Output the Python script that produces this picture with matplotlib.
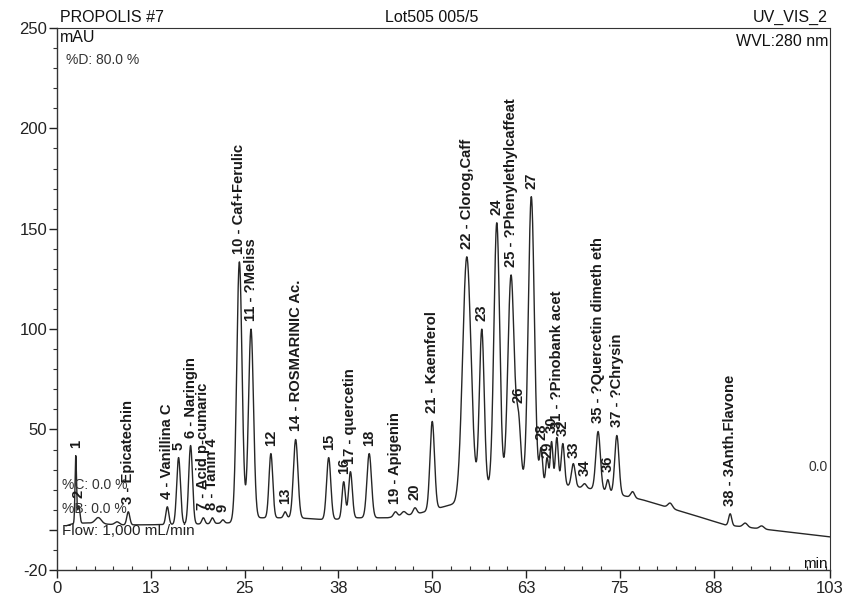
import numpy as np
import matplotlib
matplotlib.use('Agg')
import matplotlib.pyplot as plt
from matplotlib.ticker import FixedLocator, MultipleLocator

plt.rcParams['font.family'] = ['Liberation Sans', 'DejaVu Sans']

# ---------------- data ----------------
peak_labels = ["1", "2", "3 - Epicatechin", "4 - Vanillina C", "5", "6 - Naringin",
               "7 - Acid p-cumaric", "8 - Tanin 4", "9", "10 - Caf+Ferulic", "11 - ?Meliss",
               "12", "13", "14 - ROSMARINIC Ac.", "15", "16", "17 - quercetin", "18",
               "19 - Apigenin", "20", "21 - Kaemferol", "22 - Clorog,Caff", "23", "24",
               "25 - ?Phenylethylcaffeat", "26", "27", "28", "29", "30",
               "31 - ?Pinobank acet", "32", "33", "34", "35 - ?Quercetin dimeth eth",
               "36", "37 - ?Chrysin", "38 - 3Anth.Flavone"]
peak_rt = [2.5, 2.9, 9.5, 14.7, 16.2, 17.8, 19.5, 20.7, 22.1, 24.3, 25.85,
           28.5, 30.4, 31.8, 36.2, 38.2, 39.1, 41.6, 45.1, 47.7, 50.0,
           54.6, 56.6, 58.6, 60.5, 61.5, 63.2, 64.5, 65.3, 65.9, 66.6,
           67.4, 68.8, 70.3, 72.1, 73.4, 74.6, 89.7]
peak_apex = [37, 12, 9, 11.5, 36, 42, 6, 6, 5, 133.5, 100,
             38, 9, 45, 36, 24, 29, 38, 9, 11, 54,
             136, 100, 153, 127, 59, 166, 41, 36, 44, 46,
             43, 33, 23, 49, 25, 47, 8]
peak_sigma = [0.1, 0.15, 0.2, 0.2, 0.25, 0.25, 0.2, 0.2, 0.2, 0.35, 0.33,
              0.25, 0.2, 0.3, 0.28, 0.22, 0.25, 0.3, 0.25, 0.25, 0.3,
              0.55, 0.32, 0.38, 0.42, 0.3, 0.4, 0.2, 0.18, 0.18, 0.2,
              0.22, 0.25, 0.25, 0.3, 0.2, 0.28, 0.2]

# small unlabelled bumps
minor_rt = [5.5, 8.0, 46.2, 76.7, 81.7, 91.7, 93.9]
minor_h = [3, 1.5, 2, 3, 2.5, 2, 1.5]
minor_sigma = [0.4, 0.3, 0.3, 0.25, 0.3, 0.3, 0.3]

# baseline (drift)
base_t = [1.2, 2.0, 4, 8, 12, 20, 23, 25, 27, 32, 36, 40, 44, 48, 51, 53, 55, 58,
          63, 68, 72, 75.5, 78, 82, 86, 89, 95, 103]
base_y = [2, 3, 3.5, 2.5, 2.5, 3, 3.5, 6, 6, 6, 5, 6, 6, 8, 11, 13, 19, 22,
          23, 22, 20, 17, 15, 10.5, 6, 2.5, 0, -3.5]

x_tick_pos = [0, 12.5, 25, 37.5, 50, 62.5, 75, 87.5, 103]
x_tick_lab = ["0", "13", "25", "38", "50", "63", "75", "88", "103"]
y_tick_pos = [-20, 0, 50, 100, 150, 200, 250]
y_tick_lab = ["-20", "", "50", "100", "150", "200", "250"]

# ---------------- build trace ----------------
rt = np.array(peak_rt)
ap = np.array(peak_apex, float)
sg = np.array(peak_sigma)
t = np.linspace(1.2, 103, 6000)
base = np.interp(t, base_t, base_y)

def gauss(x, c, s):
    return np.exp(-(x - c) ** 2 / (2 * s ** 2))

minor = np.zeros_like(t)
minor_at_rt = np.zeros_like(rt)
for c, h, s in zip(minor_rt, minor_h, minor_sigma):
    minor += h * gauss(t, c, s)
    minor_at_rt += h * gauss(rt, c, s)

target = ap - np.interp(rt, base_t, base_y) - minor_at_rt
G = gauss(rt[:, None], rt[None, :], sg[None, :])
amp = np.clip(np.linalg.solve(G, target), 0, None)

signal = base + minor
for c, a, s in zip(rt, amp, sg):
    signal += a * gauss(t, c, s)

# ---------------- figure ----------------
fig = plt.figure(figsize=(8.52, 6.08), dpi=100)
ax = fig.add_axes([57 / 852, 38 / 608, 773 / 852, 542 / 608])
ax.plot(t, signal, color='#262626', lw=1.0)
ax.set_xlim(0, 103)
ax.set_ylim(-20, 250)

for sp in ax.spines.values():
    sp.set_color('#333333')
    sp.set_linewidth(1.0)
ax.spines['top'].set_linewidth(0.8)
ax.spines['right'].set_linewidth(0.8)

ax.xaxis.set_major_locator(FixedLocator(x_tick_pos))
ax.set_xticklabels(x_tick_lab)
ax.xaxis.set_minor_locator(MultipleLocator(2.5))
ax.yaxis.set_major_locator(FixedLocator(y_tick_pos))
ax.set_yticklabels(y_tick_lab)
ax.yaxis.set_minor_locator(MultipleLocator(10))
ax.tick_params(axis='both', which='major', direction='out', length=6, width=1.0,
               labelsize=12, colors='#222222', pad=2)
ax.tick_params(axis='x', which='minor', direction='in', length=3, width=0.8, colors='#333333')
ax.tick_params(axis='y', which='minor', direction='out', length=3, width=0.8, colors='#333333')
ax.tick_params(axis='y', which='major', pad=1)

# peak labels (small nudges where the reference staggers crowded labels)
label_dy = {"29": 0.0, "33": 3.0}
for lab, c, a in zip(peak_labels, peak_rt, peak_apex):
    dy = label_dy.get(lab, 4.0)
    ax.text(c, a + dy, lab, rotation=90, ha='center', va='bottom',
            fontsize=10.6, fontweight='bold', color='#1a1a1a')

# header / annotations
fig.text(60 / 852, 1 - 17 / 608, "PROPOLIS #7", fontsize=11.5, ha='left', va='center', color='#111111')
fig.text(432 / 852, 1 - 17 / 608, "Lot505 005/5", fontsize=11.5, ha='center', va='center', color='#111111')
fig.text(828 / 852, 1 - 17 / 608, "UV_VIS_2", fontsize=11.5, ha='right', va='center', color='#111111')
fig.text(60 / 852, 1 - 38 / 608, "mAU", fontsize=11.5, ha='left', va='center', color='#111111')
fig.text(828 / 852, 1 - 42 / 608, "WVL:280 nm", fontsize=11.5, ha='right', va='center', color='#111111')
fig.text(66 / 852, 1 - 60 / 608, "%D: 80.0 %", fontsize=10, ha='left', va='center', color='#333333')
fig.text(62 / 852, 1 - 485 / 608, "%C: 0.0 %", fontsize=10, ha='left', va='center', color='#333333')
fig.text(62 / 852, 1 - 509 / 608, "%B: 0.0 %", fontsize=10, ha='left', va='center', color='#333333')
fig.text(62 / 852, 1 - 531 / 608, "Flow: 1,000 mL/min", fontsize=11, ha='left', va='center', color='#222222')
fig.text(828 / 852, 1 - 467 / 608, "0.0", fontsize=10, ha='right', va='center', color='#333333')
fig.text(828 / 852, 1 - 564 / 608, "min", fontsize=11, ha='right', va='center', color='#111111')

fig.savefig("out.png", dpi=100)
